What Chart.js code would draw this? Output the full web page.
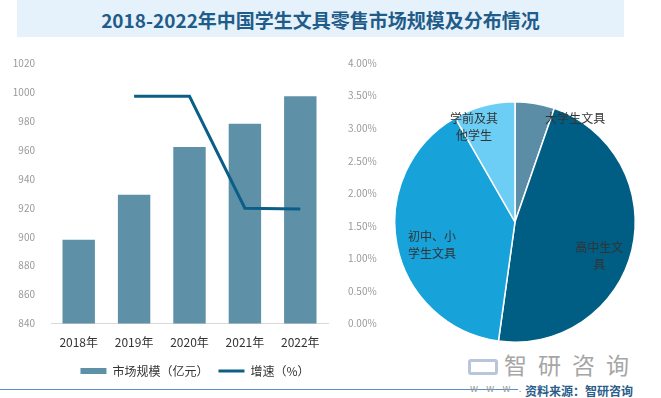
<!DOCTYPE html>
<html>
<head>
<meta charset="utf-8">
<script src="https://cdn.jsdelivr.net/npm/chart.js@4.4.1/dist/chart.umd.min.js"></script>
<style>
  body { margin: 0; background: #fff; font-family: "Noto Sans CJK SC", sans-serif; }
  #wrap { position: relative; width: 661px; height: 398px; overflow: hidden; }
  #title { position: absolute; left: 17px; top: 0; width: 607px; height: 37px; background: #e6f2fb;
           color: #1f5c8a; font-weight: bold; font-size: 19px; line-height: 40px; text-align: center; }
  #barBox { position: absolute; left: 0; top: 40px; width: 390px; height: 347px; }
  #pieBox { position: absolute; left: 390px; top: 97px; width: 250px; height: 250px; }
  #logo { position: absolute; left: 468px; top: 347px; color: #a6a6a6; font-size: 23px; letter-spacing: 11px; }
  #logo span { display: inline-block; width: 30px; height: 16px; border: 3px solid #b8c6dc; border-radius: 3px; box-sizing: border-box; margin-right: 6px; vertical-align: -1px; }
  #rule { position: absolute; left: 0; top: 389px; width: 518px; height: 1px; background: #5b8fc4; }
  #www { position: absolute; left: 470px; top: 380px; font-size: 10px; color: #999; letter-spacing: 3px; }
  #src { position: absolute; left: 525px; top: 382px; font-size: 12px; color: #2a5d8a; font-weight: bold; }
</style>
</head>
<body>
<div id="wrap">
  <div id="title">2018-2022年中国学生文具零售市场规模及分布情况</div>
  <div id="barBox"><canvas id="barChart"></canvas></div>
  <div id="pieBox"><canvas id="pieChart"></canvas></div>
  <div id="logo"><span></span>智研咨询</div>
  <div id="rule"></div>
  <div id="www">w w w .</div>
  <div id="src">资料来源：智研咨询</div>
</div>
<script>
// 市场规模及增速
const years = ['2018年', '2019年', '2020年', '2021年', '2022年'];
const marketSize = [898, 929, 962, 978, 997];
const growth = [null, 3.49, 3.49, 1.77, 1.76];

// 分布情况
const pieLabels = ['大学生文具', '高中生文具', '初中、小学生文具', '学前及其他学生'];
const pieShares = [5.3, 46.9, 39.5, 8.3];
const pieTexts = [['大学生文具'], ['高中生文', '具'], ['初中、小', '学生文具'], ['学前及其', '他学生']];

const font = "'Noto Sans CJK SC', sans-serif";

new Chart(document.getElementById('barChart'), {
    type: 'bar',
    data: {
        labels: years,
        datasets: [{
            type: 'line',
            label: '增速（%）',
            data: growth,
            yAxisID: 'y1',
            borderColor: '#0b5f87',
            backgroundColor: '#0b5f87',
            borderWidth: 3,
            pointRadius: 0,
            pointStyle: 'line',
            order: 0
        }, {
            label: '市场规模（亿元）',
            data: marketSize,
            yAxisID: 'y',
            backgroundColor: '#5e90a8',
            borderWidth: 0,
            pointStyle: 'rect',
            barPercentage: 0.585,
            categoryPercentage: 1,
            order: 1
        }]
    },
    options: {
        responsive: true,
        maintainAspectRatio: false,
        animation: false,
        layout: { padding: { top: 23, bottom: 0 } },
        plugins: {
            tooltip: { enabled: false },
            legend: {
                position: 'bottom',
                reverse: true,
                labels: {
                    usePointStyle: true,
                    pointStyleWidth: 26,
                    boxHeight: 6,
                    padding: 10,
                    color: '#333',
                    font: { family: font, size: 12 }
                }
            }
        },
        scales: {
            x: {
                grid: { display: false, drawTicks: false },
                border: { color: '#d9d9d9' },
                ticks: { color: '#333', font: { family: font, size: 12 }, padding: 12 },
                afterFit: s => { s.height -= 7; }
            },
            y: {
                position: 'left',
                min: 840,
                max: 1020,
                grid: { display: false },
                border: { display: false },
                ticks: { stepSize: 20, color: '#999', font: { family: font, size: 10 }, padding: 8,
                    callback: v => String(v) },
                afterFit: s => { s.width = 51; }
            },
            y1: {
                position: 'right',
                min: 0,
                max: 4,
                grid: { display: false },
                border: { display: false },
                ticks: {
                    stepSize: 0.5, color: '#999', font: { family: font, size: 10 }, padding: 12,
                    callback: v => v.toFixed(2) + '%'
                },
                afterFit: s => { s.width = 62; }
            }
        }
    }
});

// 饼图标签：按半径比例放在圆心附近
const labelSpots = [[0.50, -0.86], [0.70, 0.28], [-0.69, 0.19], [-0.34, -0.79]];
const pieText = {
    id: 'pieText',
    afterDatasetsDraw(chart) {
        const arc = chart.getDatasetMeta(0).data[0];
        const ctx = chart.ctx;
        ctx.save();
        ctx.fillStyle = '#333';
        ctx.font = '12px ' + font;
        ctx.textAlign = 'center';
        ctx.textBaseline = 'middle';
        pieTexts.forEach((lines, i) => {
            const cx = arc.x + labelSpots[i][0] * arc.outerRadius;
            const cy = arc.y + labelSpots[i][1] * arc.outerRadius;
            lines.forEach((t, j) => {
                ctx.fillText(t, cx, cy + (j - (lines.length - 1) / 2) * 17);
            });
        });
        ctx.restore();
    }
};

new Chart(document.getElementById('pieChart'), {
    type: 'pie',
    data: {
        labels: pieLabels,
        datasets: [{
            data: pieShares,
            backgroundColor: ['#5b8ea6', '#005e85', '#17a2da', '#6ccef4'],
            borderColor: '#fff',
            borderWidth: 1.5
        }]
    },
    options: {
        responsive: true,
        maintainAspectRatio: false,
        animation: false,
        layout: { padding: 4 },
        plugins: { legend: { display: false }, tooltip: { enabled: false } }
    },
    plugins: [pieText]
});
</script>
</body>
</html>
